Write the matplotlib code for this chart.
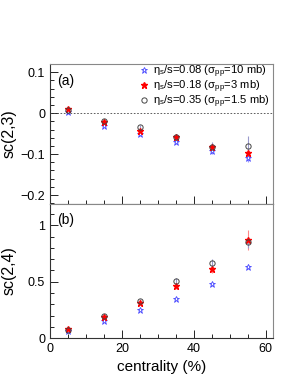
import numpy as np
import matplotlib
matplotlib.use('Agg')
import matplotlib.pyplot as plt
from matplotlib.ticker import MultipleLocator
from matplotlib.lines import Line2D

plt.rcParams['font.family'] = ['Liberation Sans', 'DejaVu Sans']
plt.rcParams['mathtext.fontset'] = 'custom'
plt.rcParams['mathtext.rm'] = 'Liberation Sans'
plt.rcParams['mathtext.it'] = 'Liberation Sans'

# centrality bins
centrality = [5, 15, 25, 35, 45, 55]

# sc(2,3) values
sc23_008 = [0.002, -0.031, -0.051, -0.070, -0.093, -0.110]
sc23_018 = [0.010, -0.021, -0.043, -0.057, -0.082, -0.098]
sc23_035 = [0.008, -0.019, -0.033, -0.059, -0.082, -0.080]
sc23_008_err = [0.003, 0.003, 0.004, 0.005, 0.007, 0.010]
sc23_018_err = [0.003, 0.004, 0.005, 0.006, 0.010, 0.014]
sc23_035_err = [0.003, 0.004, 0.005, 0.007, 0.012, 0.025]

# sc(2,4) values
sc24_008 = [0.060, 0.149, 0.250, 0.350, 0.476, 0.634]
sc24_018 = [0.083, 0.190, 0.310, 0.460, 0.610, 0.870]
sc24_035 = [0.075, 0.200, 0.330, 0.510, 0.670, 0.850]
sc24_008_err = [0.005, 0.008, 0.010, 0.012, 0.015, 0.020]
sc24_018_err = [0.008, 0.012, 0.018, 0.025, 0.035, 0.090]
sc24_035_err = [0.008, 0.012, 0.018, 0.025, 0.035, 0.050]

labels = [r'η$_\mathrm{s}$/s=0.08 (σ$_\mathrm{pp}$=10 mb)',
          r'η$_\mathrm{s}$/s=0.18 (σ$_\mathrm{pp}$=3 mb)',
          r'η$_\mathrm{s}$/s=0.35 (σ$_\mathrm{pp}$=1.5 mb)']

blue = '#4444ff'
red = '#ff0000'
grey = '#444444'

fig = plt.figure(figsize=(2.98, 3.85), dpi=100)
ax1 = fig.add_axes([0.168, 0.470, 0.748, 0.3636])
ax2 = fig.add_axes([0.168, 0.122, 0.748, 0.348])


def draw(ax, y1, e1, y2, e2, y3, e3):
    ax.errorbar(centrality, y1, yerr=e1, fmt='none', ecolor='#9999ff', elinewidth=0.8)
    ax.errorbar(centrality, y2, yerr=e2, fmt='none', ecolor='#ff8888', elinewidth=0.8)
    ax.errorbar(centrality, y3, yerr=e3, fmt='none', ecolor='#9999cc', elinewidth=0.8)
    ax.plot(centrality, y1, ls='none', marker='*', ms=5, markerfacecolor='white',
            markeredgecolor=blue, markeredgewidth=0.6)
    ax.plot(centrality, y2, ls='none', marker='*', ms=5, color=red)
    ax.plot(centrality, y3, ls='none', marker='o', ms=3.8, markerfacecolor='none',
            markeredgecolor=grey, markeredgewidth=0.7)


def style(ax):
    ax.set_xlim(0, 62)
    ax.xaxis.set_major_locator(MultipleLocator(20))
    ax.xaxis.set_minor_locator(MultipleLocator(5))
    ax.tick_params(which='both', direction='in', top=False, right=False, labelsize=9)
    ax.tick_params(which='major', length=6, width=0.6)
    ax.tick_params(which='minor', length=3, width=0.6)
    for s in ['top', 'right']:
        ax.spines[s].set_color('#888888')
    for s in ['left', 'bottom']:
        ax.spines[s].set_color('#333333')
    for s in ax.spines.values():
        s.set_linewidth(0.8)


draw(ax1, sc23_008, sc23_008_err, sc23_018, sc23_018_err, sc23_035, sc23_035_err)
ax1.axhline(0, color='#444444', ls=(0, (2, 2)), lw=0.6)
style(ax1)
ax1.set_ylim(-0.222, 0.12)
ax1.yaxis.set_minor_locator(MultipleLocator(0.02))
ax1.set_yticks([-0.2, -0.1, 0, 0.1])
ax1.set_yticklabels(['−0.2', '−0.1', '0', '0.1'])
ax1.tick_params(axis='x', labelbottom=False)
ax1.set_ylabel('sc(2,3)', fontsize=11.5)
ax1.yaxis.set_label_coords(-0.15, 0.5)
ax1.text(0.03, 0.93, '(a)', transform=ax1.transAxes, fontsize=10, va='top')

handles = [
    Line2D([], [], ls='none', marker='*', ms=5, markerfacecolor='white',
           markeredgecolor=blue, markeredgewidth=0.6),
    Line2D([], [], ls='none', marker='*', ms=5, color=red),
    Line2D([], [], ls='none', marker='o', ms=3.8, markerfacecolor='none',
           markeredgecolor=grey, markeredgewidth=0.7),
]
ax1.legend(handles, labels, loc='upper right', frameon=False, fontsize=8.1,
           handlelength=1.0, handletextpad=0.3, labelspacing=-0.15,
           borderaxespad=0.0, borderpad=0.1, bbox_to_anchor=(0.99, 1.01))

draw(ax2, sc24_008, sc24_008_err, sc24_018, sc24_018_err, sc24_035, sc24_035_err)
style(ax2)
ax2.set_ylim(0, 1.19)
ax2.yaxis.set_minor_locator(MultipleLocator(0.1))
ax2.set_yticks([0, 0.5, 1])
ax2.set_yticklabels(['0', '0.5', '1'])
ax2.set_ylabel('sc(2,4)', fontsize=11.5)
ax2.yaxis.set_label_coords(-0.15, 0.5)
ax2.set_xlabel('centrality (%)', fontsize=11)
ax2.text(0.03, 0.93, '(b)', transform=ax2.transAxes, fontsize=10, va='top')

fig.savefig('out.png', dpi=100)
